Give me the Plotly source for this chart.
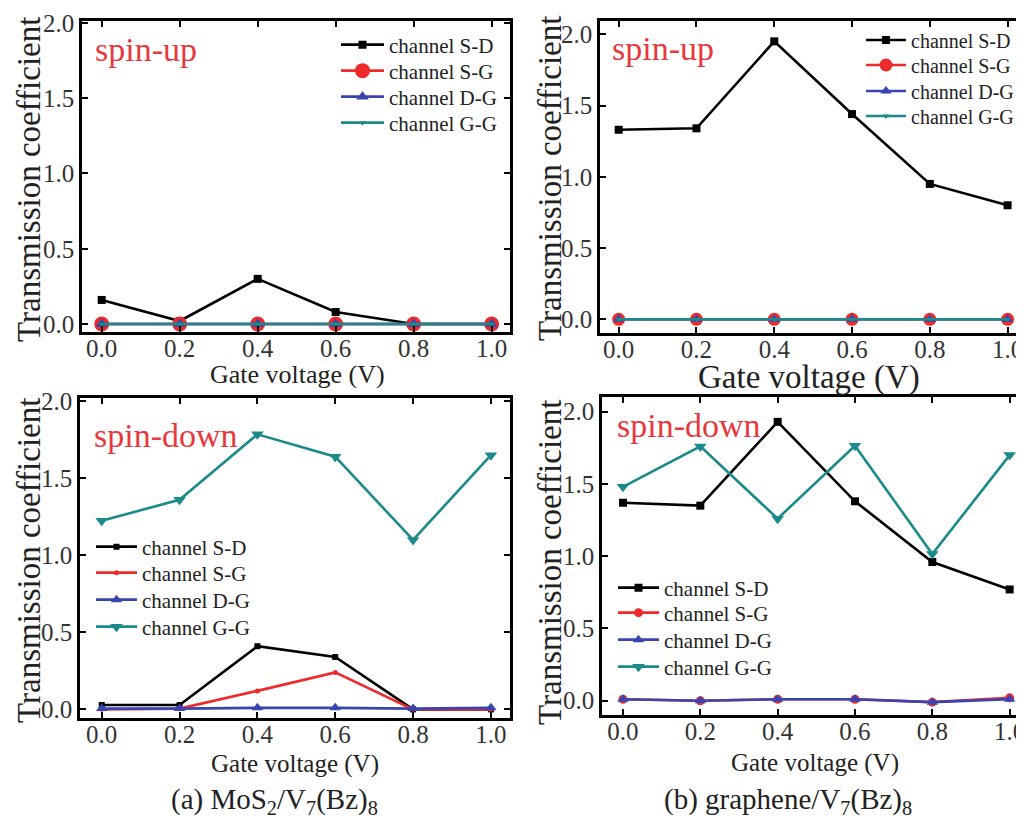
import plotly.graph_objects as go

# ---------------- data ----------------
gate_voltage = [0.0, 0.2, 0.4, 0.6, 0.8, 1.0]
channels = ["channel S-D", "channel S-G", "channel D-G", "channel G-G"]

# (a) MoS2/V7(Bz)8
mos2_up_SD = [0.16, 0.02, 0.30, 0.08, 0.0, 0.0]
mos2_up_SG = [0.0, 0.0, 0.0, 0.0, 0.0, 0.0]
mos2_up_DG = [0.0, 0.0, 0.0, 0.0, 0.0, 0.0]
mos2_up_GG = [0.0, 0.0, 0.0, 0.0, 0.0, 0.0]

mos2_dn_SD = [0.028, 0.028, 0.41, 0.34, 0.0, 0.0]
mos2_dn_SG = [0.0, 0.005, 0.12, 0.24, 0.0, 0.0]
mos2_dn_DG = [0.005, 0.005, 0.01, 0.01, 0.005, 0.01]
mos2_dn_GG = [1.225, 1.36, 1.785, 1.64, 1.10, 1.65]

# (b) graphene/V7(Bz)8
gr_up_SD = [1.33, 1.34, 1.95, 1.44, 0.95, 0.80]
gr_up_SG = [0.0, 0.0, 0.0, 0.0, 0.0, 0.0]
gr_up_DG = [0.0, 0.0, 0.0, 0.0, 0.0, 0.0]
gr_up_GG = [0.0, 0.0, 0.0, 0.0, 0.0, 0.0]

gr_dn_SD = [1.37, 1.35, 1.93, 1.38, 0.96, 0.77]
gr_dn_SG = [0.01, 0.0, 0.01, 0.01, -0.01, 0.02]
gr_dn_DG = [0.01, 0.0, 0.01, 0.01, -0.01, 0.01]
gr_dn_GG = [1.48, 1.76, 1.26, 1.765, 1.015, 1.70]

x_tick_vals = [0.0, 0.2, 0.4, 0.6, 0.8, 1.0]
x_tick_text = ["0.0", "0.2", "0.4", "0.6", "0.8", "1.0"]
y_tick_vals = [0.0, 0.5, 1.0, 1.5, 2.0]
y_tick_text = ["0.0", "0.5", "1.0", "1.5", "2.0"]

y_title = "Transmission coefficient"
x_title = "Gate voltage (V)"
caption_a = "(a) MoS<sub>2</sub>/V<sub>7</sub>(Bz)<sub>8</sub>"
caption_b = "(b) graphene/V<sub>7</sub>(Bz)<sub>8</sub>"

# ---------------- style ----------------
W, H = 1024, 818
OFF = 8  # page body margin of the html page
FONT = "Liberation Serif"
BLACK = "#000000"
RED = "#ee2a2a"
BLUE = "#3a44b0"
TEAL = "#1b8a8a"
LABEL_RED = "#e8383d"
TEXT = "#222222"


def px(x):
    return (x - OFF) / W


def py(y):
    return 1 - (y - OFF) / H


# panel boxes in page pixels: (left, right, top, bottom), x range, y range
panels = [
    dict(box=(82, 510, 21, 332), xr=[-0.0505, 1.047], yr=[-0.053, 2.013]),
    dict(box=(600, 1022, 21, 333), xr=[-0.048, 1.037], yr=[-0.096, 2.093]),
    dict(box=(80, 510, 398, 718), xr=[-0.0558, 1.049], yr=[-0.056, 2.021]),
    dict(box=(602, 1022, 397, 715), xr=[-0.0543, 1.032], yr=[-0.099, 2.102]),
]

series = [
    [mos2_up_SD, mos2_up_SG, mos2_up_DG, mos2_up_GG],
    [gr_up_SD, gr_up_SG, gr_up_DG, gr_up_GG],
    [mos2_dn_SD, mos2_dn_SG, mos2_dn_DG, mos2_dn_GG],
    [gr_dn_SD, gr_dn_SG, gr_dn_DG, gr_dn_GG],
]

colors = [BLACK, RED, BLUE, TEAL]
symbols = ["square", "circle", "triangle-up", "triangle-down"]
marker_sizes = [
    [8, 15, 11, 6],
    [8, 13, 10, 6],
    [6, 5, 10, 11],
    [8, 9, 10, 11],
]

# legend layout per panel: line start x, row centres y, font size, item width
legend_layout = [
    (342, [45, 71, 97, 123], 21, 43),
    (867, [40, 65, 91, 116], 20, 40),
    (97, [547, 573, 600, 627], 21, 41),
    (619, [588, 613, 640, 667], 21, 41),
]

fig = go.Figure()
layout = dict(
    width=W, height=H,
    margin=dict(l=0, r=0, t=0, b=0, autoexpand=False),
    paper_bgcolor="white", plot_bgcolor="white",
    font=dict(family=FONT, color=TEXT),
    template="none",
)

leg_idx = 0
for i, p in enumerate(panels):
    suffix = "" if i == 0 else str(i + 1)
    lx, rows, fs, iw = legend_layout[i]
    for j in range(4):
        leg_idx += 1
        lname = "legend" if leg_idx == 1 else "legend%d" % leg_idx
        fig.add_trace(go.Scatter(
            x=gate_voltage, y=series[i][j], name=channels[j],
            mode="lines+markers",
            line=dict(color=colors[j], width=2.6),
            marker=dict(symbol=symbols[j], size=marker_sizes[i][j], color=colors[j],
                        line=dict(width=0)),
            xaxis="x" + suffix, yaxis="y" + suffix,
            legend=lname, showlegend=True,
        ))
        layout[lname] = dict(
            x=px(lx - 6), y=py(rows[j]), xanchor="left", yanchor="middle",
            xref="paper", yref="paper",
            bgcolor="rgba(0,0,0,0)", borderwidth=0,
            font=dict(family=FONT, size=fs, color=TEXT),
            itemwidth=iw,
        )

axis_common = dict(
    showline=True, linecolor=BLACK, linewidth=2.5, mirror="ticks",
    ticks="inside", ticklen=6, tickwidth=2, tickcolor=BLACK,
    showgrid=False, zeroline=False, automargin=False,
    tickfont=dict(family=FONT, size=25, color="#333333"),
)

for i, p in enumerate(panels):
    l, r, t, b = p["box"]
    suffix = "" if i == 0 else str(i + 1)
    layout["xaxis" + suffix] = dict(
        axis_common, domain=[px(l), min(px(r), 1.0)], range=p["xr"],
        tickvals=x_tick_vals, ticktext=x_tick_text,
        anchor="y" + suffix, ticklabelstandoff=-8,
    )
    layout["yaxis" + suffix] = dict(
        axis_common, domain=[py(b), py(t)], range=p["yr"],
        tickvals=y_tick_vals, ticktext=y_tick_text,
        anchor="x" + suffix,
    )

fig.update_layout(**layout)

annotations = []
# y titles
for (cx, cy) in [(29, 180), (550, 179), (29, 561), (550, 563)]:
    annotations.append(dict(x=px(cx), y=py(cy), xref="paper", yref="paper",
                            text=y_title, textangle=-90, showarrow=False,
                            xanchor="center", yanchor="middle",
                            font=dict(family=FONT, size=33, color=TEXT)))
# x titles
for (cx, cy, fs) in [(297, 374, 26), (809, 378, 33), (295, 764, 25), (815, 763, 25)]:
    annotations.append(dict(x=px(cx), y=py(cy), xref="paper", yref="paper",
                            text=x_title, showarrow=False,
                            xanchor="center", yanchor="middle",
                            font=dict(family=FONT, size=fs, color=TEXT)))
# spin labels
for (lx, cy, txt) in [(93, 50, "spin-up"), (610, 48, "spin-up"),
                      (92, 435, "spin-down"), (615, 425, "spin-down")]:
    annotations.append(dict(x=px(lx), y=py(cy), xref="paper", yref="paper",
                            text=txt, showarrow=False,
                            xanchor="left", yanchor="middle",
                            font=dict(family=FONT, size=34, color=LABEL_RED)))
# captions
for (cx, cy, txt) in [(274, 801, caption_a), (788, 801, caption_b)]:
    annotations.append(dict(x=px(cx), y=py(cy), xref="paper", yref="paper",
                            text=txt, showarrow=False,
                            xanchor="center", yanchor="middle",
                            font=dict(family=FONT, size=29, color=TEXT)))

fig.update_layout(annotations=annotations)

fig.write_html("out.html")
